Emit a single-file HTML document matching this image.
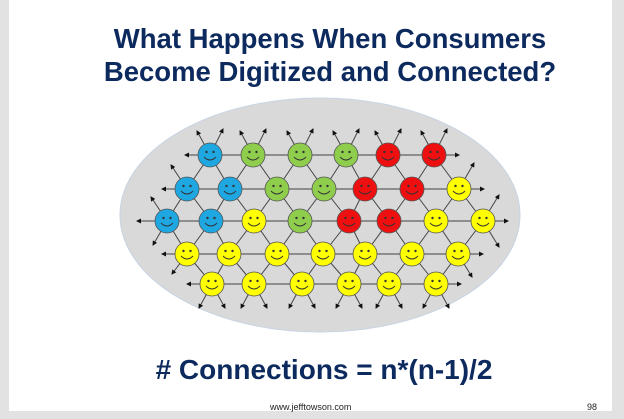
<!DOCTYPE html>
<html><head><style>
body{margin:0;width:624px;height:419px;background:#e2e2e2;position:relative;overflow:hidden;font-family:"Liberation Sans",Arial,sans-serif}
#s{position:absolute;left:9px;top:0;width:603px;height:411px;background:#fff}
.t{position:absolute;left:0;width:660px;text-align:center;font-weight:bold;color:#0c2a5e;white-space:nowrap}
</style></head><body>
<div id="s"></div>
<div class="t" style="top:22px;font-size:27.5px;line-height:33px">What Happens When Consumers<br>Become Digitized and Connected?</div>
<div class="t" style="top:353px;font-size:28px;line-height:34px;left:0;width:648px"># Connections = n*(n-1)/2</div>
<div style="position:absolute;left:270px;top:402px;font-size:9px;color:#222">www.jefftowson.com</div>
<div style="position:absolute;left:587px;top:402px;font-size:9px;color:#222">98</div>
<svg id="g" width="624" height="419" style="position:absolute;left:0;top:0">
<defs><marker id="a" markerWidth="5" markerHeight="5" refX="4" refY="2.5" orient="auto"><path d="M0,0L5,2.5L0,5z" fill="#111"/></marker></defs>
<ellipse cx="320" cy="215" rx="200" ry="117" fill="#d9d9d9" stroke="#c8d4e4" stroke-width="1"/>
</svg>
<script>
var rows=[[155,[210,253,300,346,388,434],"BGGGRR"],[189,[187,230,277,324,365,412,459],"BBGGRRY"],[221,[167,211,254,300,349,389,436,483],"BBYGRRYY"],[254,[187,229,277,323,365,412,458],"YYYYYYY"],[284,[212,254,302,349,389,436],"YYYYYY"]];
var C={B:"#1ea7e1",G:"#8fce4c",R:"#ee1010",Y:"#ffff00"};
var s="",f="";
function L(x1,y1,x2,y2,ar){s+='<line x1="'+x1+'" y1="'+y1+'" x2="'+x2+'" y2="'+y2+'" stroke="#444" stroke-width="1"'+(ar?' marker-end="url(#a)"':'')+'/>';}
rows.forEach(function(r,i){var y=r[0],xs=r[1];
 for(var j=0;j<xs.length-1;j++)L(xs[j],y,xs[j+1],y);
 L(xs[0],y,xs[0]-(i==2?30:25),y,1);L(xs[xs.length-1],y,xs[xs.length-1]+25,y,1);
 if(i<4){var n=rows[i+1];xs.forEach(function(x){n[1].forEach(function(x2){if(Math.abs(x2-x)<35)L(x,y,x2,n[0]);});});}
 if(i==0)xs.forEach(function(x){L(x,y,x-13,y-24,1);L(x,y,x+13,y-26,1);});
 if(i==4)xs.forEach(function(x){L(x,y,x-13,y+24,1);L(x,y,x+13,y+24,1);});
 xs.forEach(function(x,j){f+='<circle cx="'+x+'" cy="'+y+'" r="12" fill="'+C[r[2][j]]+'" stroke="#555" stroke-width="0.8"/><circle cx="'+(x-3.5)+'" cy="'+(y-3)+'" r="1.2" fill="#333"/><circle cx="'+(x+3.5)+'" cy="'+(y-3)+'" r="1.2" fill="#333"/><path d="M'+(x-6)+','+(y+2)+'Q'+x+','+(y+8)+' '+(x+6)+','+(y+2)+'" fill="none" stroke="#333" stroke-width="0.9"/>';});
});
L(187,189,171,165,1);L(167,221,151,197,1);L(167,221,153,245,1);L(187,254,172,274,1);
L(459,189,474,163,1);L(483,221,499,195,1);L(483,221,499,247,1);L(458,254,472,277,1);
document.getElementById("g").insertAdjacentHTML("beforeend",s+f);
</script>
</body></html>
